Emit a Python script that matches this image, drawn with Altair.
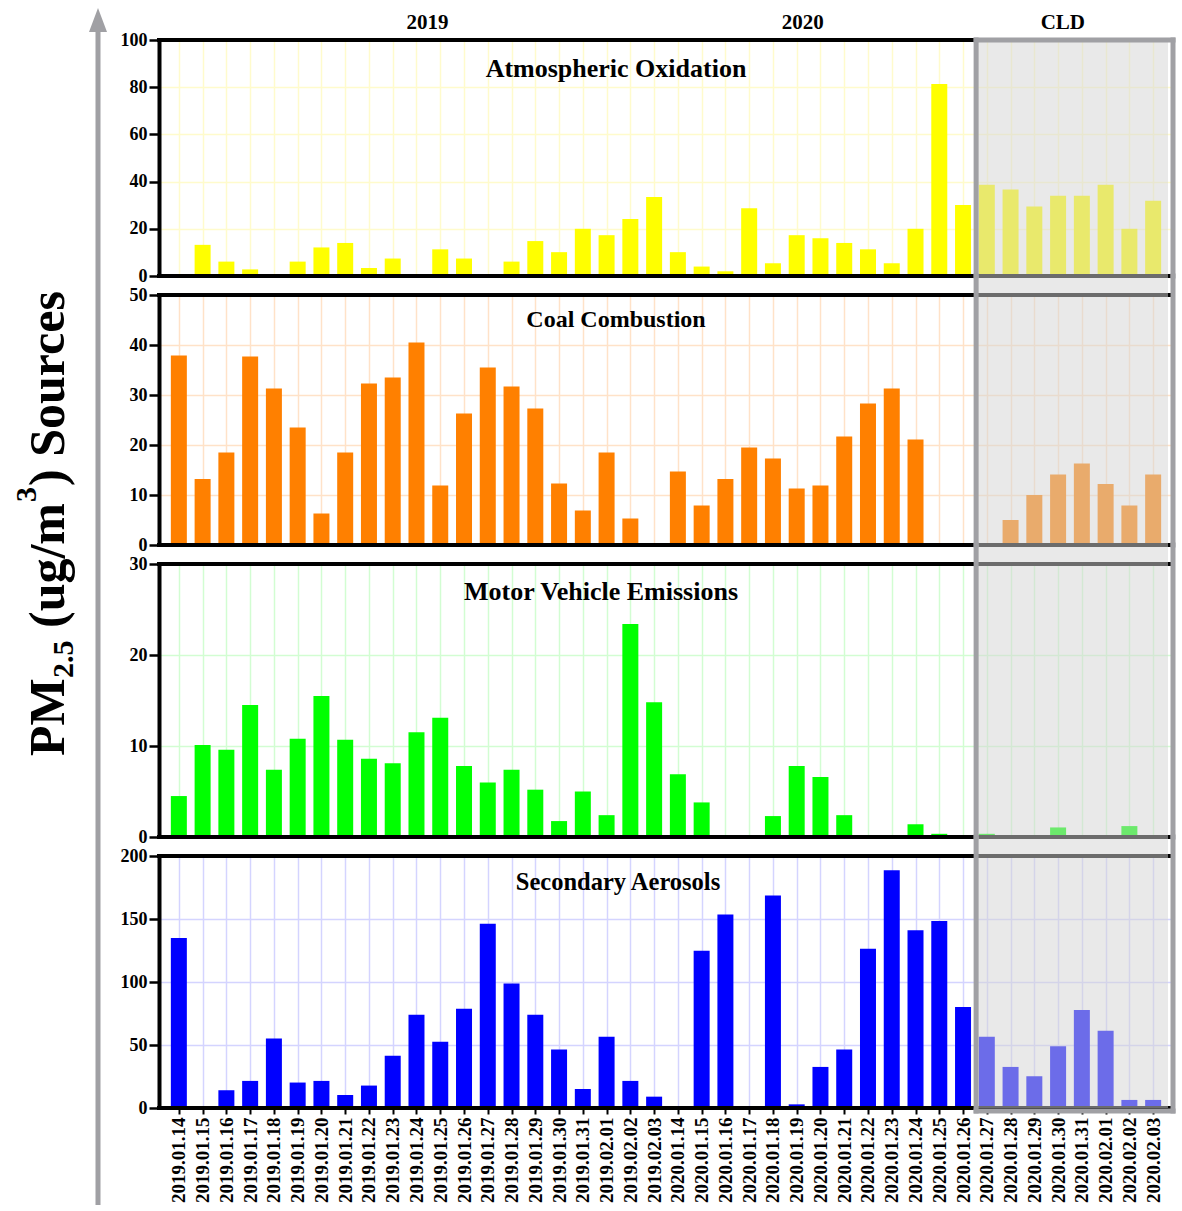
import altair as alt
import pandas as pd

# Sampling days (x categories)
dates = [
    "2019.01.14", "2019.01.15", "2019.01.16", "2019.01.17", "2019.01.18", "2019.01.19",
    "2019.01.20", "2019.01.21", "2019.01.22", "2019.01.23", "2019.01.24", "2019.01.25",
    "2019.01.26", "2019.01.27", "2019.01.28", "2019.01.29", "2019.01.30", "2019.01.31",
    "2019.02.01", "2019.02.02", "2019.02.03",
    "2020.01.14", "2020.01.15", "2020.01.16", "2020.01.17", "2020.01.18", "2020.01.19",
    "2020.01.20", "2020.01.21", "2020.01.22", "2020.01.23", "2020.01.24", "2020.01.25",
    "2020.01.26",
    "2020.01.27", "2020.01.28", "2020.01.29", "2020.01.30", "2020.01.31", "2020.02.01",
    "2020.02.02", "2020.02.03",
]

# Source contributions, ug/m3
atmospheric_oxidation = [
    0, 13.2, 6.1, 2.8, 0, 6.1, 12.1, 14.0, 3.4, 7.4,
    0, 11.3, 7.4, 0, 6.1, 14.8, 10.1, 20.0, 17.3, 24.1,
    33.5, 10.1, 4.0, 2.0, 28.7, 5.4, 17.3, 16.0, 14.0, 11.3,
    5.4, 20.0, 81.4, 30.1, 38.7, 36.7, 29.4, 34.0, 34.0, 38.7, 20.0, 31.9,
]
coal_combustion = [
    37.9, 13.2, 18.5, 37.7, 31.3, 23.5, 6.3, 18.5, 32.3, 33.5,
    40.5, 11.9, 26.3, 35.5, 31.7, 27.3, 12.3, 6.9, 18.5, 5.3,
    0, 14.7, 7.9, 13.2, 19.5, 17.3, 11.3, 11.9, 21.7, 28.3,
    31.3, 21.1, 0, 0, 0, 5.0, 10.0, 14.1, 16.3, 12.2, 7.9, 14.1,
]
motor_vehicle_emissions = [
    4.5, 10.1, 9.6, 14.5, 7.4, 10.8, 15.5, 10.7, 8.6, 8.1,
    11.5, 13.1, 7.8, 6.0, 7.4, 5.2, 1.75, 5.0, 2.4, 23.4,
    14.8, 6.9, 3.8, 0, 0, 2.3, 7.8, 6.6, 2.4, 0,
    0, 1.4, 0.35, 0, 0.35, 0, 0, 1.05, 0, 0, 1.2, 0,
]
secondary_aerosols = [
    135, 0, 14.1, 21.5, 55.2, 20.2, 21.5, 10.3, 17.8, 41.4,
    74.0, 52.5, 78.8, 146.2, 98.9, 74.0, 46.4, 15.1, 56.5, 21.5,
    9.0, 0, 124.9, 153.6, 0, 168.7, 2.9, 32.6, 46.4, 126.3,
    188.6, 141.1, 148.5, 80.1, 56.5, 32.6, 25.2, 49.1, 77.7, 61.3, 6.4, 6.4,
]

series = [atmospheric_oxidation, coal_combustion, motor_vehicle_emissions, secondary_aerosols]
panel_titles = ["Atmospheric Oxidation", "Coal Combustion", "Motor Vehicle Emissions", "Secondary Aerosols"]
y_max = [100, 50, 30, 200]
y_step = [20, 10, 10, 50]

top_labels = ["2019", "2020", "CLD"]
top_label_pos = [10.46, 26.25, 37.2]

# Styling
FONT = "Liberation Serif"
bar_colors = ["#ffff00", "#ff8000", "#00ff00", "#0000ff"]
grid_colors = ["#fffbcc", "#ffe2c8", "#d2fdd2", "#d4d4ff"]
heights = [236, 250, 273, 252]
title_sizes = [26, 24, 26, 24.5]
title_baselines = [37, 32, 36, 34]
title_x = [457, 457, 442, 459]
W = 1014
GAP = 19
X_MIN, X_MAX = -0.625, 41.625
CLD_START = 33.55
CLD_GREY = "#a0a0a4"

one = pd.DataFrame({"k": [0]})
xscale = alt.Scale(domain=[X_MIN, X_MAX], nice=False, zero=False)
label_expr = "[" + ",".join("'%s'" % d for d in dates) + "][datum.value]"


def panel(i):
    H = heights[i]
    last = i == len(series) - 1
    df = pd.DataFrame({"idx": list(range(len(dates))), "date": dates, "value": series[i]})

    x_axis = alt.Axis(
        values=list(range(len(dates))), tickCount=len(dates), grid=True,
        gridColor=grid_colors[i], gridWidth=1.5,
        domain=False, title=None, labels=last, ticks=last,
        labelExpr=label_expr, labelAngle=270, labelFont=FONT, labelFontSize=19,
        labelFontWeight="bold", labelColor="black", labelPadding=3, labelOverlap=False,
        tickColor="black", tickSize=6, tickWidth=2,
    )
    y_axis = alt.Axis(
        values=list(range(0, y_max[i] + 1, y_step[i])), grid=True, gridColor=grid_colors[i],
        gridWidth=1.5, title=None, domainColor="black", domainWidth=4, tickColor="black",
        tickSize=10, tickWidth=2.5, labelFont=FONT, labelFontSize=18, labelFontWeight="bold",
        labelColor="black", labelPadding=2,
    )

    def xd(v):
        return alt.X(datum=v, scale=xscale, axis=x_axis)

    bars = alt.Chart(df).mark_bar(width=16, color=bar_colors[i]).encode(
        x=alt.X("idx:Q", scale=xscale, axis=x_axis),
        y=alt.Y("value:Q", scale=alt.Scale(domain=[0, y_max[i]], nice=False), axis=y_axis),
    )

    frame_top = alt.Chart(one).mark_rule(color="black", strokeWidth=4).encode(
        x=alt.value(-2), x2=alt.value(W), y=alt.value(0))
    frame_bottom = alt.Chart(one).mark_rule(color="black", strokeWidth=4).encode(
        x=alt.value(-2), x2=alt.value(W), y=alt.value(H))

    top = 0 if i == 0 else -GAP
    cld_shade = alt.Chart(one).mark_rect(color="#d3d3d3", opacity=0.51).encode(
        x=xd(CLD_START), x2=alt.X2(datum=X_MAX), y=alt.value(top), y2=alt.value(H))
    cld_left = alt.Chart(one).mark_rule(color=CLD_GREY, strokeWidth=5, strokeCap="square").encode(
        x=xd(CLD_START), y=alt.value(top), y2=alt.value(H + (3 if last else 0)))
    cld_right = alt.Chart(one).mark_rule(color=CLD_GREY, strokeWidth=5, strokeCap="square").encode(
        x=alt.value(W), y=alt.value(top), y2=alt.value(H + (3 if last else 0)))

    title = alt.Chart(one).mark_text(
        text=panel_titles[i], font=FONT, fontSize=title_sizes[i], fontWeight="bold",
        align="center", baseline="alphabetic", color="black",
    ).encode(x=alt.value(title_x[i]), y=alt.value(title_baselines[i]))

    layers = [bars, frame_top, frame_bottom, cld_shade, cld_left, cld_right, title]

    if i == 0:
        cld_top = alt.Chart(one).mark_rule(color=CLD_GREY, strokeWidth=5, strokeCap="square").encode(
            x=xd(CLD_START), x2=alt.value(W), y=alt.value(0))
        tl = pd.DataFrame({"label": top_labels, "pos": top_label_pos})
        tops = alt.Chart(tl).mark_text(
            font=FONT, fontSize=21, fontWeight="bold", baseline="alphabetic",
            align="center", color="black",
        ).encode(x=alt.X("pos:Q", scale=xscale, axis=x_axis), y=alt.value(-11), text="label:N")

        # Long upward arrow next to the shared y title
        arrow_line = alt.Chart(one).mark_rule(color=CLD_GREY, strokeWidth=5).encode(
            x=alt.value(-61), y=alt.value(-12), y2=alt.value(1165))
        arrow_head = alt.Chart(one).mark_point(
            shape="M0,-1.4L0.9,1L-0.9,1Z", filled=True, color=CLD_GREY, size=400, opacity=1
        ).encode(x=alt.value(-61), y=alt.value(-18))

        # Shared y title: PM2.5 (ug/m3) Sources, built from pieces for sub/superscripts
        pieces = [
            ("PM", 50, -95, 716),
            ("2.5", 30, -86, 638),
            ("(ug/m", 50, -95, 588),
            ("3", 30, -123, 462),
            (") Sources", 50, -95, 446),
        ]
        ytitle = [
            alt.Chart(one).mark_text(
                text=t, font=FONT, fontSize=s, fontWeight="bold", angle=270,
                align="left", baseline="alphabetic", color="black",
            ).encode(x=alt.value(px), y=alt.value(py))
            for t, s, px, py in pieces
        ]
        layers += [cld_top, tops, arrow_line, arrow_head] + ytitle

    if last:
        cld_bottom = alt.Chart(one).mark_rule(color=CLD_GREY, strokeWidth=5, strokeCap="square").encode(
            x=xd(CLD_START), x2=alt.value(W), y=alt.value(H + 3))
        layers.append(cld_bottom)

    return alt.layer(*layers).properties(width=W, height=H)


chart = alt.vconcat(
    *[panel(i) for i in range(len(series))], spacing=GAP, bounds="flush"
).resolve_scale(x="independent", y="independent").properties(
    padding={"left": 11, "top": 7, "right": 2, "bottom": 0}
).configure_view(stroke=None).configure(background="white")

chart.save("out.html", embed_options={"renderer": "svg", "actions": False})
